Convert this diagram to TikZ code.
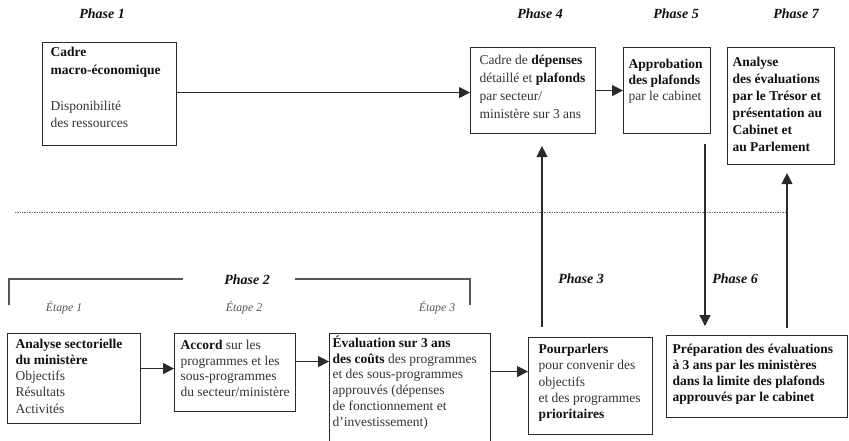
\documentclass[tikz,border=0pt]{standalone}
\usepackage{fontspec}
\setmainfont{Liberation Serif}
\usetikzlibrary{arrows.meta,calc}

\definecolor{ink}{HTML}{111111}
\definecolor{bodytext}{HTML}{333333}
\definecolor{steptext}{HTML}{555555}
\definecolor{rulecol}{HTML}{2A2A2A}

% bold words inside a panel
\newcommand{\bld}[1]{{\bfseries\color{ink}#1}}
% panel text: width, height, left pad, first baseline, line skip, lines
\newcommand{\paneltext}[6]{%
  \begin{minipage}[c][#2][t]{#1}%
    \fontsize{13.5}{#5}\selectfont\color{bodytext}%
    \raggedright\leftskip=#3\relax
    \rule{0pt}{#4}#6%
  \end{minipage}}

\tikzset{
  panel/.style={draw=rulecol, line width=1.1pt, inner sep=0pt, anchor=north west},
  link/.style={draw=rulecol, line width=1.2pt, -{Triangle[length=11pt,width=11pt]}},
  phaselabel/.style={font=\fontsize{14}{16}\selectfont\bfseries\itshape, text=ink, inner sep=1pt},
  steplabel/.style={font=\fontsize{11.8}{13}\selectfont\itshape, text=steptext, inner sep=1pt},
  bracketline/.style={draw=rulecol!80, line width=1.1pt},
  dotline/.style={draw=rulecol!70, line width=0.8pt, dash pattern=on 0.8pt off 0.9pt}
}

\begin{document}
\begin{tikzpicture}[x=1pt,y=-1pt]
\useasboundingbox (0,0) rectangle (849,441);
\fill[white] (0,0) rectangle (849,441);

% phase headings
\node[phaselabel] (p1) at (102,14) {Phase 1};
\node[phaselabel] (p4) at (540,14) {Phase 4};
\node[phaselabel] (p5) at (676,14) {Phase 5};
\node[phaselabel] (p7) at (796,14) {Phase 7};
\node[phaselabel] (p2) at (247,280) {Phase 2};
\node[phaselabel] (p3) at (581,279) {Phase 3};
\node[phaselabel] (p6) at (735,279) {Phase 6};

% stage headings under phase 2
\node[steplabel] (e1) at (64,308) {Étape 1};
\node[steplabel] (e2) at (244,308) {Étape 2};
\node[steplabel] (e3) at (437,308) {Étape 3};

% upper row
\node[panel] (macro) at (42,42)
  {\paneltext{134pt}{103pt}{8pt}{14pt}{17.5pt}{\bld{Cadre}\\\bld{macro-économique}\\[18.5pt]Disponibilité\\des ressources}};
\node[panel] (ceil) at (470,47)
  {\paneltext{125pt}{86pt}{9pt}{16.5pt}{18pt}{Cadre de \bld{dépenses}\\détaillé et \bld{plafonds}\\par secteur/\\ministère sur 3 ans}};
\node[panel] (cabinet) at (623,47)
  {\paneltext{87pt}{86pt}{5pt}{20.5pt}{16.2pt}{\bld{Approbation}\\\bld{des plafonds}\\par le cabinet}};
\node[panel] (treasury) at (727,47)
  {\paneltext{107pt}{117pt}{5pt}{19pt}{17pt}{\bld{Analyse}\\\bld{des évaluations}\\\bld{par le Trésor et}\\\bld{présentation au}\\\bld{Cabinet et}\\\bld{au Parlement}}};

% lower row
\node[panel] (sector) at (7,333)
  {\paneltext{133pt}{90pt}{8pt}{14.5pt}{16.25pt}{\bld{Analyse sectorielle}\\\bld{du ministère}\\Objectifs\\Résultats\\Activités}};
\node[panel] (accord) at (174,333)
  {\paneltext{121pt}{78pt}{6pt}{16pt}{15.6pt}{\bld{Accord} sur les\\programmes et les\\sous-programmes\\du secteur/ministère}};
\node[panel] (costs) at (329,333)
  {\paneltext{161pt}{130pt}{3pt}{14pt}{15.7pt}{\bld{Évaluation sur 3 ans}\\\bld{des coûts} des programmes\\et des sous-programmes\\approuvés (dépenses\\de fonctionnement et\\d’investissement)}};
\node[panel] (talks) at (528,337)
  {\paneltext{124pt}{97pt}{10pt}{16pt}{16.25pt}{\bld{Pourparlers}\\pour convenir des\\objectifs\\et des programmes\\\bld{prioritaires}}};
\node[panel] (prep) at (666,335)
  {\paneltext{181pt}{82pt}{6pt}{17.5pt}{16.3pt}{\bld{Préparation des évaluations}\\\bld{à 3 ans par les ministères}\\\bld{dans la limite des plafonds}\\\bld{approuvés par le cabinet}}};

% separator between the two levels
\draw[dotline] (15,212.5) -- (787,212.5);

% bracket spanning the three stages of phase 2
\draw[bracketline] (9,305) |- (183,279);
\draw[bracketline] (295,279) -| (470,305);

% horizontal flow
\draw[link] ([yshift=1.5pt]macro.east) -- ([yshift=1.5pt]macro.east -| ceil.west);
\draw[link] (ceil.east) -- (ceil.east -| cabinet.west);
\draw[link] ([yshift=4pt]accord.west -| sector.east) -- ([yshift=4pt]accord.west);
\draw[link] ([yshift=11pt]accord.east) -- ([yshift=11pt]accord.east -| costs.west);
\draw[link] ([yshift=14.5pt]talks.west -| costs.east) -- ([yshift=14.5pt]talks.west);

% vertical flow between levels
\draw[link] ($(talks.north west)+(14,-10)$) -- ($(ceil.south west)+(72,12)$);
\draw[link] ($(cabinet.south west)+(82,10)$) -- ($(prep.north west)+(39,-9)$);
\draw[link] ($(prep.north west)+(121,-7)$) -- ($(treasury.south west)+(60,8)$);
\end{tikzpicture}
\end{document}
